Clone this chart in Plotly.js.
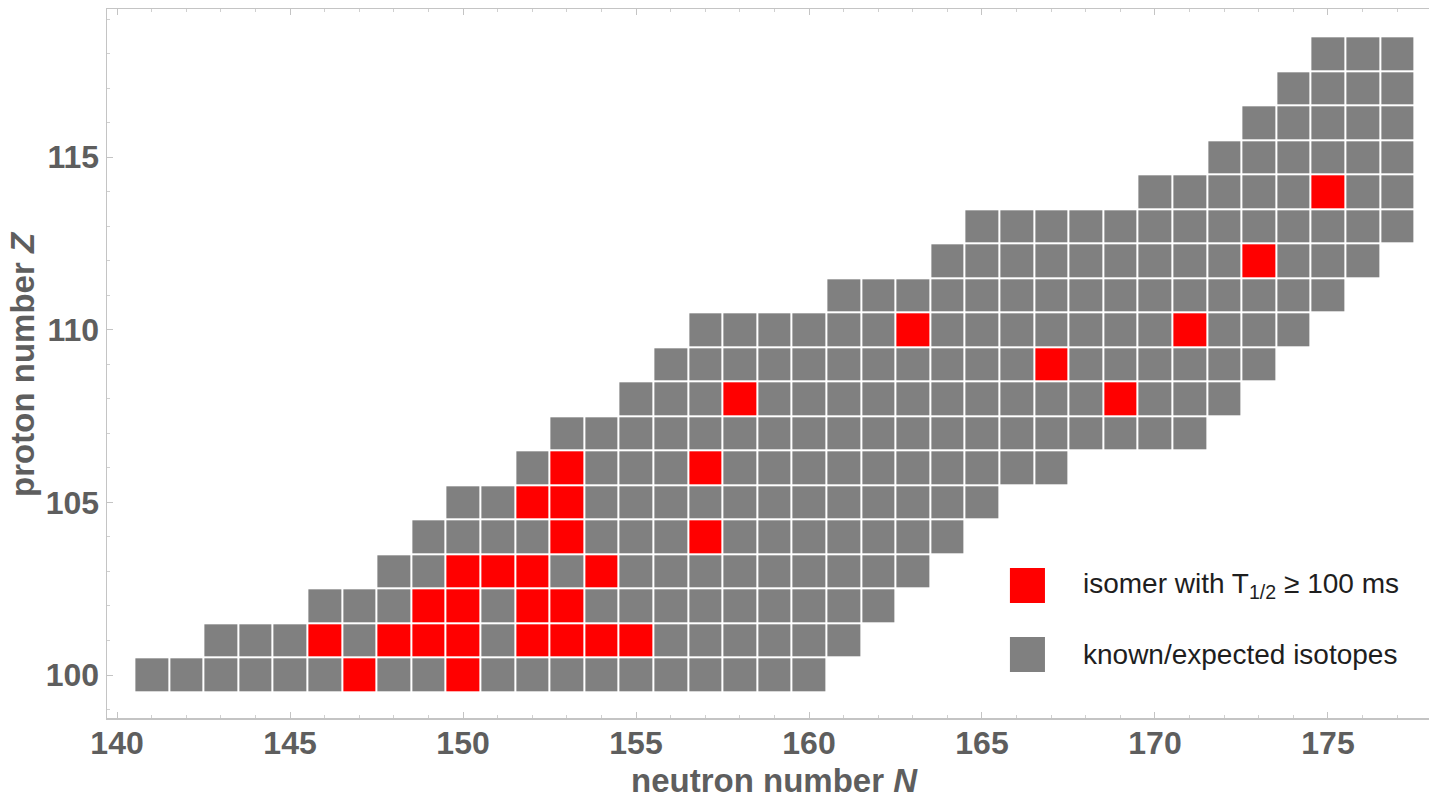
<!DOCTYPE html>
<html>
<head>
<meta charset="utf-8">
<script src="https://cdn.plot.ly/plotly-3.0.1.min.js"></script>
<style>
  html, body { margin: 0; padding: 0; background: #ffffff; }
  #chart { width: 1429px; height: 799px; }
</style>
</head>
<body>
<div id="chart"></div>
<script>
// Proton numbers of the rows and the neutron-number span of each row
const protonZ = [100, 101, 102, 103, 104, 105, 106, 107, 108, 109, 110, 111, 112, 113, 114, 115, 116, 117, 118];
const firstN  = [141, 143, 146, 148, 149, 150, 152, 153, 155, 156, 157, 161, 164, 165, 170, 172, 173, 174, 175];
const lastN   = [160, 161, 162, 163, 164, 165, 167, 171, 172, 173, 174, 175, 176, 177, 177, 177, 177, 177, 177];

// Nuclei with an isomer of half-life >= 100 ms
const isomerN = [147, 150, 146, 148, 149, 150, 152, 153, 154, 155, 149, 150, 152, 153, 150, 151, 152, 154,
                 153, 157, 152, 153, 153, 157, 158, 169, 167, 163, 171, 173, 175];
const isomerZ = [100, 100, 101, 101, 101, 101, 101, 101, 101, 101, 102, 102, 102, 102, 103, 103, 103, 103,
                 104, 104, 105, 105, 106, 106, 108, 108, 109, 110, 110, 112, 114];

// Legend labels and axis titles
const legendLabels = ['isomer with T<sub>1/2</sub> \u2265 100 ms', 'known/expected isotopes'];
const xTitle = 'neutron number <i>N</i>';
const yTitle = 'proton number <i>Z</i>';

// Build the cell grid: 0 = known/expected isotope, 1 = isomer, null = empty
const nMin = Math.min(...firstN), nMax = Math.max(...lastN);
const neutronN = [];
for (let n = nMin; n <= nMax; n++) neutronN.push(n);
const grid = protonZ.map((z, i) =>
  neutronN.map(n => (n >= firstN[i] && n <= lastN[i]) ? 0 : null));
isomerN.forEach((n, k) => {
  const row = protonZ.indexOf(isomerZ[k]);
  grid[row][n - nMin] = 1;
});

const GREY = '#808080', RED = '#ff0000';
const TXT = '#5e5e5e';
const FONT = 'Liberation Sans, Arial, sans-serif';
const titleFont = { family: FONT, size: 33, color: TXT, weight: 'bold' };

const cells = {
  type: 'heatmap',
  x: neutronN,
  y: protonZ,
  z: grid,
  zmin: 0, zmax: 1,
  colorscale: [[0, GREY], [0.5, GREY], [0.5, RED], [1, RED]],
  showscale: false,
  xgap: 2, ygap: 2,
  hoverinfo: 'skip'
};

// Legend swatches and labels, placed in paper coordinates
const swatchX = [0.683, 0.7095];
const swatchY = [[0.1622, 0.2116], [0.0649, 0.1142]];
const swatchColors = [RED, GREY];
const shapes = swatchColors.map((c, i) => ({
  type: 'rect', xref: 'paper', yref: 'paper',
  x0: swatchX[0], x1: swatchX[1], y0: swatchY[i][0], y1: swatchY[i][1],
  fillcolor: c, line: { width: 0 }
}));
const annotations = legendLabels.map((t, i) => ({
  xref: 'paper', yref: 'paper',
  x: 0.737, y: (swatchY[i][0] + swatchY[i][1]) / 2,
  xanchor: 'left', yanchor: 'middle',
  text: t, showarrow: false,
  font: { family: FONT, size: 28, color: '#1e1e1e' }
}));

// Axis titles drawn as annotations so they can sit close to the page edges
annotations.push({
  xref: 'paper', yref: 'paper', x: 0.505, y: -0.088,
  xanchor: 'center', yanchor: 'middle',
  text: xTitle, showarrow: false, font: titleFont
});
annotations.push({
  xref: 'paper', yref: 'paper', x: -0.064, y: 0.5,
  xanchor: 'center', yanchor: 'middle', textangle: -90,
  text: yTitle, showarrow: false, font: titleFont
});

const axisCommon = {
  showgrid: false, zeroline: false,
  showline: true, linecolor: '#c4c4c4', linewidth: 1.5,
  ticks: 'inside', ticklen: 6, tickwidth: 1, tickcolor: '#c4c4c4',
  minor: { dtick: 1, ticks: 'inside', ticklen: 3, tickcolor: '#d0d0d0' },
  tickfont: { family: FONT, size: 32, color: TXT, weight: 'bold' },
  fixedrange: true
};

const layout = {
  width: 1429, height: 799,
  margin: { l: 107, r: 0, t: 9, b: 81 },
  paper_bgcolor: '#ffffff', plot_bgcolor: '#ffffff',
  showlegend: false,
  xaxis: Object.assign({}, axisCommon, {
    range: [139.71, 177.92],
    tick0: 140, dtick: 5,
    ticklabelstandoff: -4,
    mirror: 'ticks'
  }),
  yaxis: Object.assign({}, axisCommon, {
    range: [98.755, 119.29],
    tick0: 100, dtick: 5
  }),
  shapes: shapes,
  annotations: annotations
};

Plotly.newPlot('chart', [cells], layout, { displayModeBar: false, staticPlot: true });
</script>
</body>
</html>
